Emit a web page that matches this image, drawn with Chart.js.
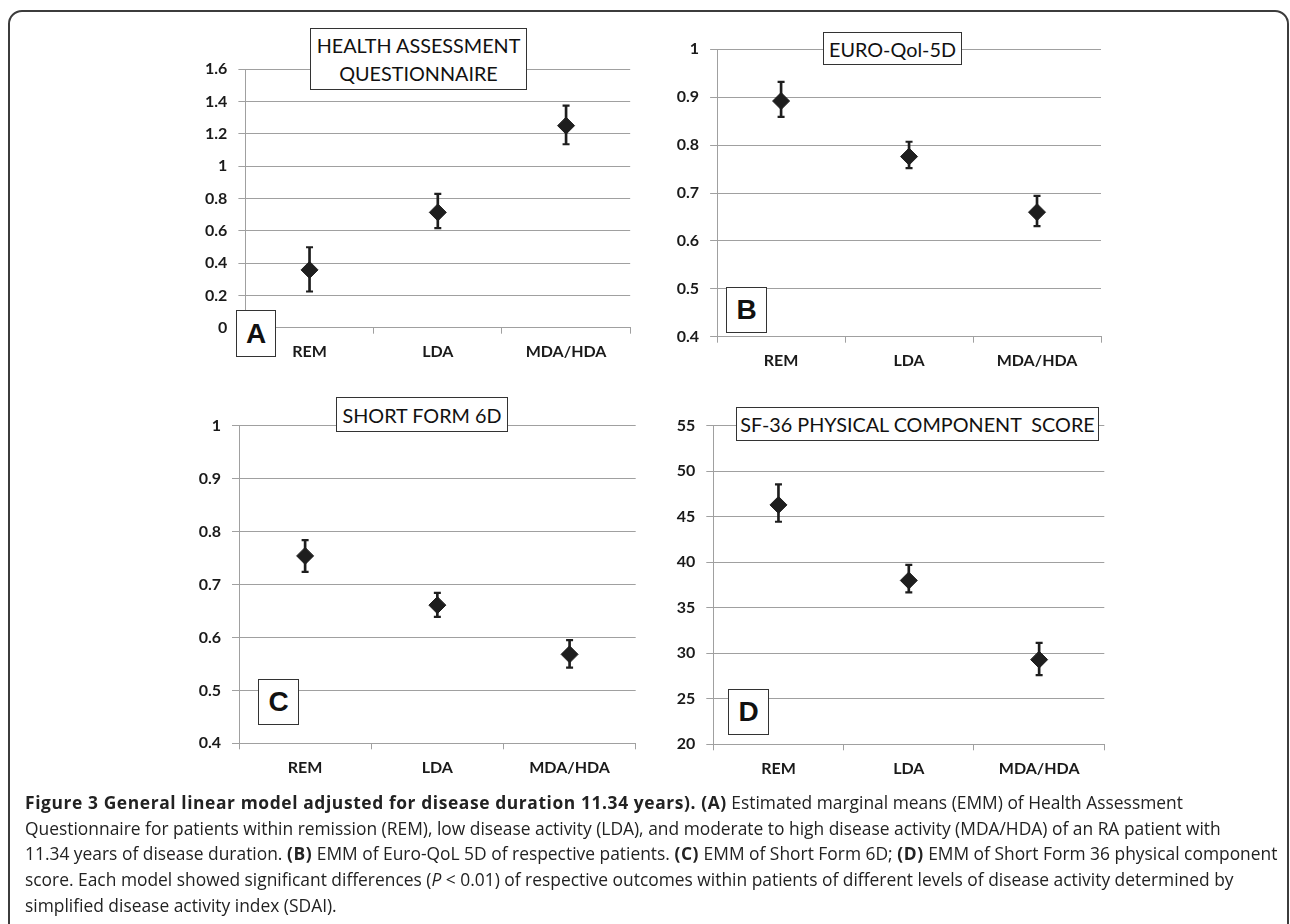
<!DOCTYPE html>
<html>
<head>
<meta charset="utf-8">
<script src="https://cdn.jsdelivr.net/npm/chart.js@4.4.0/dist/chart.umd.min.js"></script>
<style>
  body { margin: 0; width: 1290px; height: 924px; background: #fff; position: relative; overflow: hidden; }
  .frame { position: absolute; left: 8px; top: 10px; width: 1281px; height: 980px; border: 2px solid #3c3c3c; border-radius: 14px; box-sizing: border-box; }
  canvas { position: absolute; }
  .title { position: absolute; background: #fff; border: 1.5px solid #333; box-sizing: border-box;
           font-family: Lato, sans-serif; font-size: 19.8px; color: #111; text-align: center;
           display: flex; align-items: center; justify-content: center; line-height: 28px; white-space: pre; }
  .letter { position: absolute; background: #fff; border: 1.5px solid #333; box-sizing: border-box;
            font-family: "Liberation Sans", Arial, sans-serif; font-weight: bold; font-size: 28px; color: #111;
            display: flex; align-items: center; justify-content: center; }
  .caption { position: absolute; left: 25px; top: 790px; font-family: "Open Sans", sans-serif; font-size: 17.4px;
             line-height: 25.7px; color: #222; white-space: nowrap; }
  .caption b { letter-spacing: 0.6px; }
</style>
</head>
<body>
<div class="frame"></div>

<canvas id="graphA" width="490" height="340" style="left:170px; top:40px;"></canvas>
<canvas id="graphB" width="480" height="370" style="left:650px; top:20px;"></canvas>
<canvas id="graphC" width="500" height="400" style="left:160px; top:396px;"></canvas>
<canvas id="graphD" width="490" height="400" style="left:640px; top:396px;"></canvas>

<div class="title" style="left:310px; top:28px; width:217px; height:62px;">HEALTH ASSESSMENT
QUESTIONNAIRE</div>
<div class="title" style="left:823px; top:32px; width:139px; height:33px;">EURO-Qol-5D</div>
<div class="title" style="left:336px; top:397px; width:172px; height:35px;">SHORT FORM 6D</div>
<div class="title" style="left:736px; top:407px; width:363px; height:34px;">SF-36 PHYSICAL COMPONENT  SCORE</div>

<div class="letter" style="left:236px; top:310px; width:40px; height:47px;">A</div>
<div class="letter" style="left:726px; top:287px; width:41px; height:46px;">B</div>
<div class="letter" style="left:258px; top:679px; width:41px; height:46px;">C</div>
<div class="letter" style="left:728px; top:689px; width:41px; height:46px;">D</div>

<div class="caption">
<b>Figure 3 General linear model adjusted for disease duration 11.34 years). (A)</b> Estimated marginal means (EMM) of Health Assessment<br>
Questionnaire for patients within remission (REM), low disease activity (LDA), and moderate to high disease activity (MDA/HDA) of an RA patient with<br>
11.34 years of disease duration. <b>(B)</b> EMM of Euro-QoL 5D of respective patients. <b>(C)</b> EMM of Short Form 6D; <b>(D)</b> EMM of Short Form 36 physical component<br>
score. Each model showed significant differences (<i>P</i> &lt; 0.01) of respective outcomes within patients of different levels of disease activity determined by<br>
simplified disease activity index (SDAI).
</div>

<script>
  const categories = ['REM', 'LDA', 'MDA/HDA'];

  // A - Health Assessment Questionnaire
  const haqMean = [0.358, 0.714, 1.251];
  const haqLow = [0.224, 0.617, 1.136];
  const haqHigh = [0.498, 0.829, 1.375];
  const haqTicks = [0, 0.2, 0.4, 0.6, 0.8, 1, 1.2, 1.4, 1.6];

  // B - EURO-Qol-5D
  const eqMean = [0.892, 0.776, 0.660];
  const eqLow = [0.859, 0.752, 0.631];
  const eqHigh = [0.932, 0.807, 0.694];
  const eqTicks = [0.4, 0.5, 0.6, 0.7, 0.8, 0.9, 1];

  // C - Short Form 6D
  const sfMean = [0.754, 0.661, 0.568];
  const sfLow = [0.724, 0.639, 0.543];
  const sfHigh = [0.784, 0.684, 0.595];
  const sfTicks = [0.4, 0.5, 0.6, 0.7, 0.8, 0.9, 1];

  // D - SF-36 physical component score
  const pcsMean = [46.3, 38.0, 29.3];
  const pcsLow = [44.45, 36.7, 27.6];
  const pcsHigh = [48.55, 39.7, 31.15];
  const pcsTicks = [20, 25, 30, 35, 40, 45, 50, 55];

  const ink = '#1e1e1e';
  const gridGray = '#a0a0a0';
  const tickFont = { family: 'Lato', weight: 'bold', size: 16 };

  function drawPanel(id, mean, low, high, ticks, box) {
    const ctx = document.getElementById(id).getContext('2d');
    new Chart(ctx, {
      type: 'bar',
      data: {
        labels: categories,
        datasets: [
          {
            type: 'line', data: mean, showLine: false, order: 0,
            pointStyle: 'rectRot', pointRadius: 8.5,
            pointBackgroundColor: ink, pointBorderColor: ink, pointBorderWidth: 1
          },
          {
            type: 'line', data: high, showLine: false, order: 1,
            pointStyle: 'line', pointRadius: 3.5, pointBorderColor: ink, pointBorderWidth: 2.2
          },
          {
            type: 'line', data: low, showLine: false, order: 1,
            pointStyle: 'line', pointRadius: 3.5, pointBorderColor: ink, pointBorderWidth: 2.2
          },
          {
            type: 'bar', data: low.map((v, i) => [v, high[i]]), order: 2,
            backgroundColor: ink, barThickness: 2
          }
        ]
      },
      options: {
        responsive: false,
        animation: false,
        layout: { padding: { top: box.top, right: box.right, left: 0, bottom: 0 } },
        plugins: { legend: { display: false }, tooltip: { enabled: false } },
        scales: {
          x: {
            offset: true,
            grid: { offset: true, drawOnChartArea: false, tickLength: 6, color: gridGray },
            border: { color: gridGray },
            ticks: { padding: 9, font: tickFont, color: '#1a1a1a' },
            afterFit: s => { s.height = box.xh; }
          },
          y: {
            min: ticks[0],
            max: ticks[ticks.length - 1],
            afterBuildTicks: s => { s.ticks = ticks.map(v => ({ value: v })); },
            grid: { color: gridGray, tickLength: 7 },
            border: { color: gridGray },
            ticks: { padding: 11, font: tickFont, color: '#1a1a1a', callback: v => String(v) },
            afterFit: s => { s.width = box.yw; }
          }
        }
      }
    });
  }

  drawPanel('graphA', haqMean, haqLow, haqHigh, haqTicks, { top: 29.3, right: 29.8, xh: 52.3, yw: 75.4 });
  drawPanel('graphB', eqMean, eqLow, eqHigh, eqTicks, { top: 29.3, right: 29, xh: 53.3, yw: 67.1 });
  drawPanel('graphC', sfMean, sfLow, sfHigh, sfTicks, { top: 29.7, right: 24.3, xh: 52.7, yw: 79 });
  drawPanel('graphD', pcsMean, pcsLow, pcsHigh, pcsTicks, { top: 29.7, right: 25.7, xh: 51.7, yw: 73.3 });
</script>
</body>
</html>
